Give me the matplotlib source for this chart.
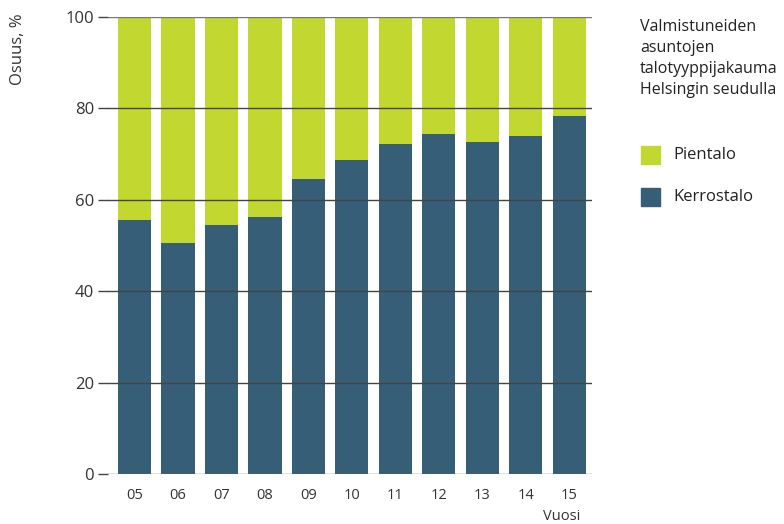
import matplotlib.pyplot as plt
from matplotlib.patches import Rectangle

vuodet = ["05", "06", "07", "08", "09", "10", "11", "12", "13", "14", "15"]
kerrostalo = [55.6, 50.5, 54.5, 56.2, 64.6, 68.7, 72.2, 74.4, 72.6, 74.0, 78.3]
pientalo = [100 - k for k in kerrostalo]

vihrea = "#C2D72F"
sininen = "#365E77"
teksti = "#333333"

plt.rcParams['font.family'] = ['Open Sans', 'DejaVu Sans']

fig = plt.figure(figsize=(7.84, 5.24), dpi=100)
ax = fig.add_axes([108 / 784, 1 - 474 / 524, (592 - 108) / 784, (474 - 17) / 524])

x = range(len(vuodet))
ax.bar(x, kerrostalo, width=0.76, color=sininen, zorder=1)
ax.bar(x, pientalo, width=0.76, bottom=kerrostalo, color=vihrea, zorder=1)

for yv in [20, 40, 60, 80]:
    ax.axhline(yv, color="#444444", lw=1, zorder=3)
ax.axhline(100, color="#777777", lw=1, zorder=3)
ax.axhline(0, color="#666666", lw=1, zorder=3)

ax.set_xlim(-0.61, 10.52)
ax.set_ylim(0, 100)
ax.set_yticks([0, 20, 40, 60, 80, 100])
ax.set_xticks(list(x))
ax.set_xticklabels(vuodet)
ax.tick_params(axis="y", length=7, width=1, color="#444444", labelsize=12, labelcolor=teksti, pad=3)
ax.tick_params(axis="x", length=0, labelsize=10.5, labelcolor=teksti, pad=10)
for s in ax.spines.values():
    s.set_visible(False)

fig.text(18 / 784, 1 - 49 / 524, "Osuus, %", rotation=90, ha="center", va="center",
         fontsize=12, color=teksti)
fig.text(580 / 784, 1 - 517 / 524, "Vuosi", ha="right", va="center", fontsize=10.5, color=teksti)

otsikko = ["Valmistuneiden", "asuntojen", "talotyyppijakauma", "Helsingin seudulla"]
for i, rivi in enumerate(otsikko):
    fig.text(640 / 784, 1 - (27 + 21 * i) / 524, rivi, ha="left", va="center",
             fontsize=11.5, color="#222222")

fig.patches.append(Rectangle((641 / 784, 1 - 164 / 524), 19 / 784, 18 / 524,
                             transform=fig.transFigure, color=vihrea))
fig.patches.append(Rectangle((641 / 784, 1 - 206 / 524), 19 / 784, 18 / 524,
                             transform=fig.transFigure, color=sininen))
fig.text(673 / 784, 1 - 155 / 524, "Pientalo", ha="left", va="center", fontsize=12, color="#222222")
fig.text(673 / 784, 1 - 197 / 524, "Kerrostalo", ha="left", va="center", fontsize=12, color="#222222")

fig.savefig("out.png", dpi=100)
